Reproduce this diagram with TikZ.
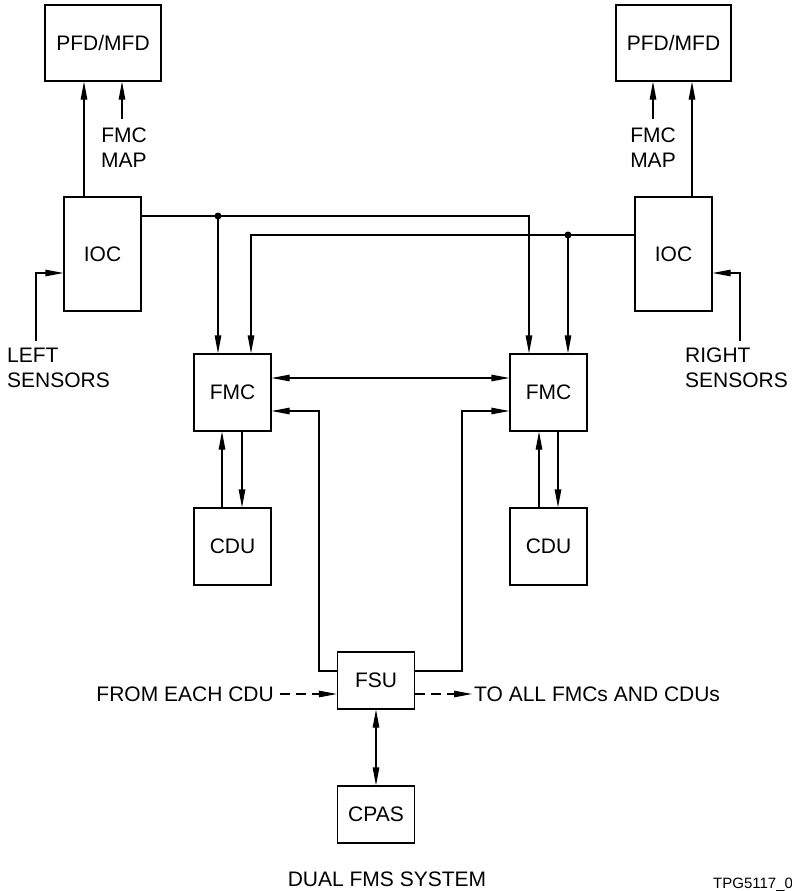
\documentclass[tikz,border=0pt]{standalone}
\usepackage{fontspec}
\setmainfont{Liberation Sans}
\usetikzlibrary{arrows.meta}
\begin{document}
\begin{tikzpicture}[x=1pt,y=-1pt,
  box/.style={draw, line width=1.2pt, inner sep=0pt, minimum width=77pt, minimum height=77pt, font=\fontsize{21}{25}\selectfont},
  lbl/.style={inner sep=0pt, font=\fontsize{21}{25}\selectfont},
  conn/.style={line width=1.2pt},
  arr/.style={conn, -{Triangle[length=18pt,width=6.5pt]}},
  arrb/.style={conn, {Triangle[length=18pt,width=6.5pt]}-{Triangle[length=18pt,width=6.5pt]}},
  dsh/.style={arr, dash pattern=on 10pt off 6pt},
]
\clip (0,0) rectangle (792,891);
\fill[white] (0,0) rectangle (792,891);
% boxes
\node[box, minimum width=116pt, minimum height=76pt] (pfdL) at (103,43) {PFD/MFD};
\node[box, minimum width=115pt, minimum height=76pt] (pfdR) at (673.5,43) {PFD/MFD};
\node[box, minimum height=114pt] (iocL) at (102.5,254) {IOC};
\node[box, minimum height=114pt] (iocR) at (673.5,254) {IOC};
\node[box] (fmcL) at (232.5,392.5) {FMC};
\node[box] (fmcR) at (548.5,392.5) {FMC};
\node[box] (cduL) at (232.5,546.5) {CDU};
\node[box] (cduR) at (548.5,546.5) {CDU};
\node[box, minimum height=57pt] (fsu) at (376,680.5) {FSU};
\node[box, minimum height=57pt] (cpas) at (376,814.5) {CPAS};
% labels
\node[lbl, anchor=north, align=center] (mapL) at (124,128) {FMC\\MAP};
\node[lbl, anchor=north, align=center] (mapR) at (653,128) {FMC\\MAP};
\node[lbl, anchor=north west, align=left] (sensL) at (7,348) {LEFT\\SENSORS};
\node[lbl, anchor=north west, align=left] (sensR) at (685,348) {RIGHT\\SENSORS};
\node[lbl, anchor=east] (from) at (274,694.5) {FROM EACH CDU};
\node[lbl, anchor=west] (to) at (474,694.5) {TO ALL FMCs AND CDUs};
\node[lbl, anchor=base] (title) at (387,886) {DUAL FMS SYSTEM};
\node[lbl, anchor=base west, font=\fontsize{15}{18}\selectfont] (tpg) at (713,888) {TPG5117\_01};
% coordinates
\coordinate (xa) at (84,0);
\coordinate (xc) at (692,0);
\coordinate (mLs) at (122,119);
\coordinate (mRs) at (653,119);
\coordinate (sL) at (36,341);
\coordinate (sLk) at (36,273);
\coordinate (sR) at (740,341);
\coordinate (sRk) at (740,273);
\coordinate (d1) at (218,216);
\coordinate (d2) at (568,235);
\coordinate (xr1) at (529,0);
\coordinate (xl2) at (251,0);
\coordinate (h1) at (0,378);
\coordinate (h2) at (0,411);
\coordinate (fl) at (319,671);
\coordinate (fr) at (462,671);
\coordinate (u1) at (222,0);
\coordinate (u2) at (242,0);
\coordinate (u3) at (539,0);
\coordinate (u4) at (558,0);
\coordinate (dl) at (280,694);
\coordinate (dr) at (472,694);
% top connectors
\draw[arr] (iocL.north -| xa) -- (pfdL.south -| xa);
\draw[arr] (mLs) -- (pfdL.south -| mLs);
\draw[arr] (iocR.north -| xc) -- (pfdR.south -| xc);
\draw[arr] (mRs) -- (pfdR.south -| mRs);
\draw[arr] (sL) -- (sLk) -- (sLk -| iocL.west);
\draw[arr] (sR) -- (sRk) -- (sRk -| iocR.east);
% buses
\draw[arr] (iocL.east |- d1) -| (fmcR.north -| xr1);
\draw[arr] (d1) -- (fmcL.north -| d1);
\draw[arr] (iocR.west |- d2) -| (fmcL.north -| xl2);
\draw[arr] (d2) -- (fmcR.north -| d2);
\fill (d1) circle (3.5pt);
\fill (d2) circle (3.5pt);
% FMC links
\draw[arrb] (fmcL.east |- h1) -- (fmcR.west |- h1);
\draw[arr] (fsu.west |- fl) -- (fl) |- (fmcL.east |- h2);
\draw[arr] (fsu.east |- fr) -- (fr) |- (fmcR.west |- h2);
\draw[arr] (cduL.north -| u1) -- (fmcL.south -| u1);
\draw[arr] (fmcL.south -| u2) -- (cduL.north -| u2);
\draw[arr] (cduR.north -| u3) -- (fmcR.south -| u3);
\draw[arr] (fmcR.south -| u4) -- (cduR.north -| u4);
% FSU
\draw[dsh] (dl) -- (fsu.west |- dl);
\draw[dsh] (fsu.east |- dr) -- (dr);
\draw[arrb] (fsu.south) -- (cpas.north);
\end{tikzpicture}
\end{document}
